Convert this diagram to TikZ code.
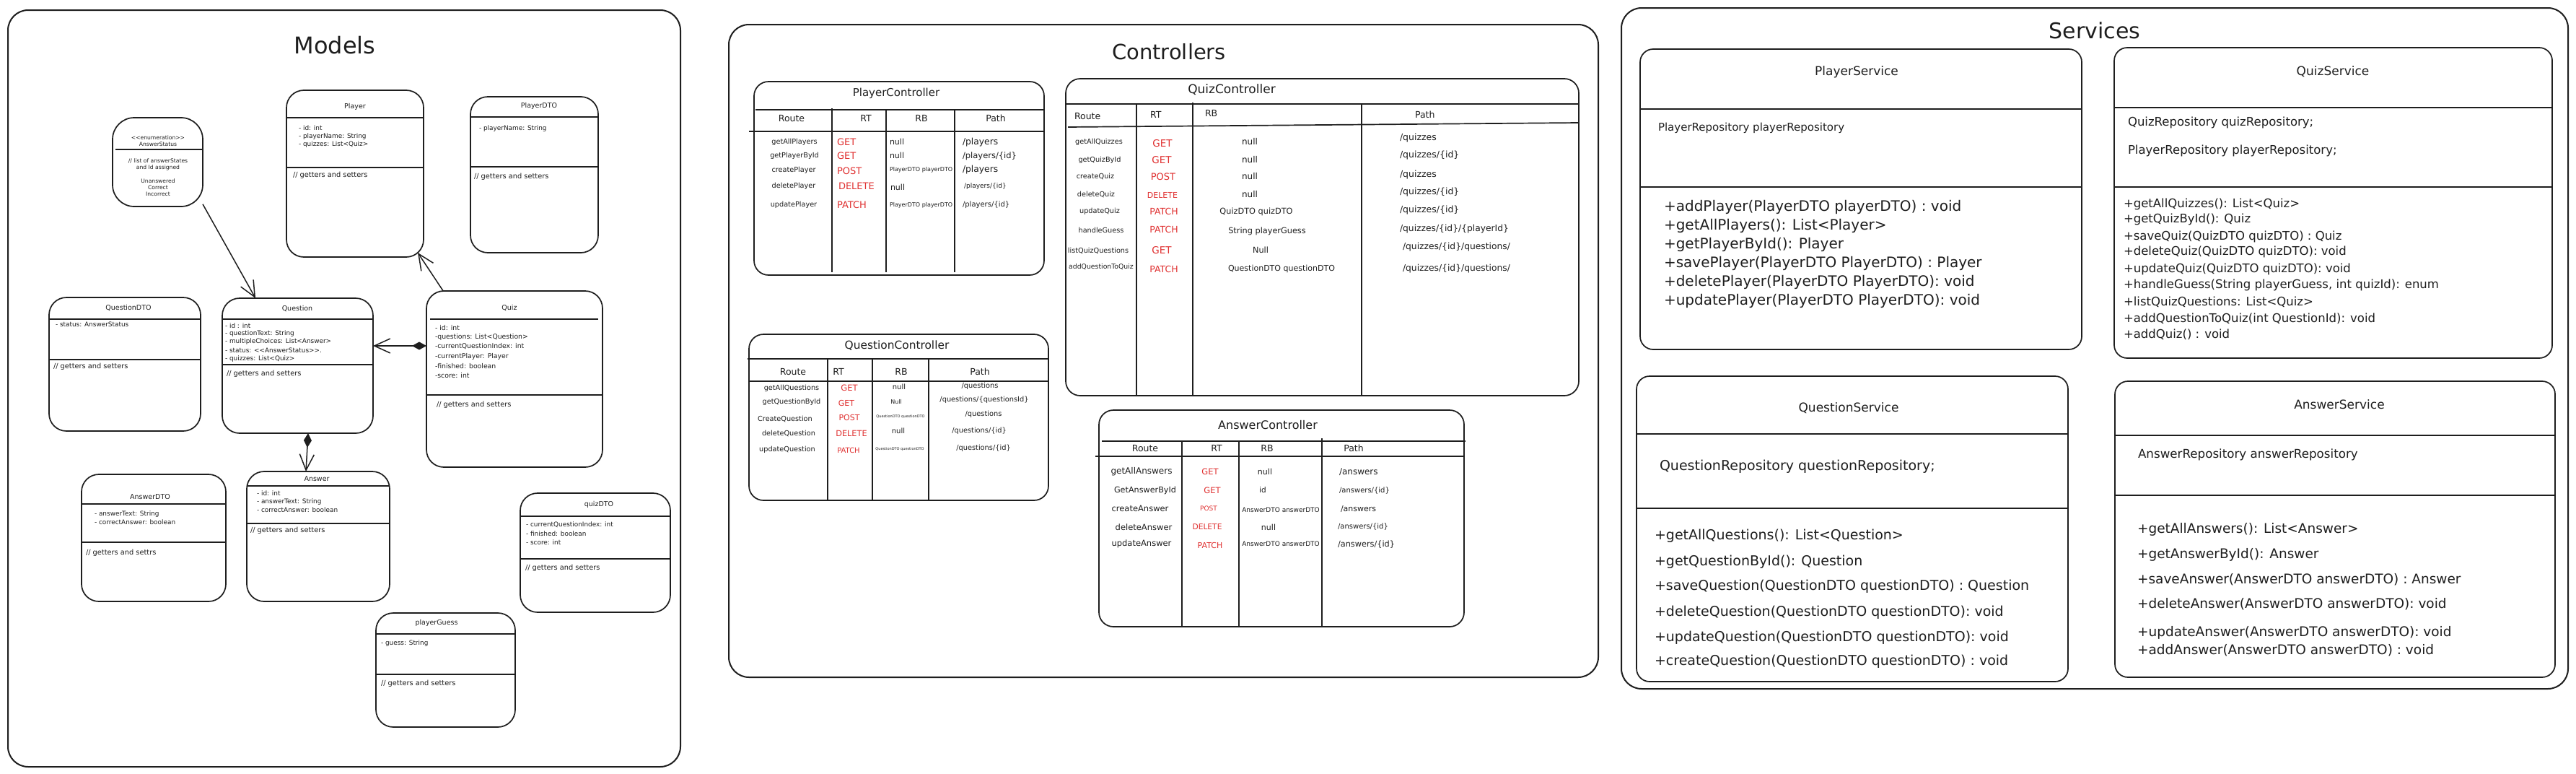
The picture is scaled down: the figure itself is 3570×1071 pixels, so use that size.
\documentclass[tikz,border=0pt]{standalone}
\usepackage{fontspec}
\setmainfont{DejaVu Sans}
\usetikzlibrary{arrows.meta,calc}
\definecolor{ink}{HTML}{1E1E1E}
\definecolor{redc}{HTML}{E03131}
\newcommand{\fsz}[1]{\fontsize{#1}{#1}\selectfont}
\newcommand{\dlt}{<\kern0pt<}
\newcommand{\dgt}{>\kern0pt>}
\newcount\tcnt
\newcommand{\tw}[4]{\global\advance\tcnt by 1\relax\node[lbl,anchor=west,font=\fsz{#3}] (t\the\tcnt) at (#1,#2) {#4};}
\newcommand{\tc}[4]{\global\advance\tcnt by 1\relax\node[lbl,font=\fsz{#3}] (t\the\tcnt) at (#1,#2) {#4};}
\newcommand{\rw}[4]{\global\advance\tcnt by 1\relax\node[lbl,text=redc,anchor=west,font=\fsz{#3}] (t\the\tcnt) at (#1,#2) {#4};}
\newcommand{\rc}[4]{\global\advance\tcnt by 1\relax\node[lbl,text=redc,font=\fsz{#3}] (t\the\tcnt) at (#1,#2) {#4};}
\newcommand{\mkbox}[6][box]{\node[#1, minimum width={(#5)-(#3)}, minimum height={(#6)-(#4)}] (#2) at ({((#3)+(#5))/2},{((#4)+(#6))/2}) {};}
\newcommand{\hln}[3]{\draw[sep] (#1,#3) -- (#2,#3);}
\newcommand{\vln}[3]{\draw[sep] (#1,#2) -- (#1,#3);}
\tikzset{
  box/.style={draw=ink, line width=1.7pt, rounded corners=24pt, inner sep=0pt, outer sep=0pt},
  abox/.style={box, rounded corners=30pt},
  cbox/.style={box, rounded corners=20pt},
  sbox/.style={box, rounded corners=18pt},
  frame/.style={draw=ink, line width=2pt, rounded corners=28pt, inner sep=0pt, outer sep=0pt},
  sep/.style={draw=ink, line width=1.7pt},
  lbl/.style={inner sep=0pt, outer sep=0pt, text=ink},
  arr/.style={draw=ink, line width=1.5pt, -{Straight Barb[length=22pt,width=20pt]}},
  comp/.style={draw=ink, line width=1.5pt, {Diamond[length=20pt,width=11pt]}-{Straight Barb[length=22pt,width=20pt]}}
}
\begin{document}
\begin{tikzpicture}[x=1pt,y=-1pt]
\useasboundingbox (0,0) rectangle (3570,1071);
\fill[white] (0,0) rectangle (3570,1071);

% ===== frames =====
\mkbox[frame]{modelsF}{11}{14}{943}{1062}
\mkbox[frame]{ctrlF}{1010}{34}{2215}{938}
\mkbox[frame]{servF}{2247}{11}{3559}{954}
\tc{464}{63}{32}{Models}
\tc{1620}{72}{29}{Controllers}
\tc{2903}{42}{30}{Services}

% ===== Models =====
\mkbox[abox]{astatus}{156}{163}{281}{286}
\hln{160}{280}{207}
\tc{219}{191}{7.6}{\dlt enumeration\dgt}
\tc{219}{200}{7.6}{AnswerStatus}
\tc{219}{223}{7.6}{// list of answerStates}
\tc{219}{232}{7.6}{and Id assigned}
\tc{219}{251}{7.6}{Unanswered}
\tc{219}{260}{7.6}{Correct}
\tc{219}{269}{7.6}{Incorrect}

\mkbox{player}{397}{125}{587}{356}
\hln{397}{587}{163}
\hln{397}{587}{232}
\tc{492}{148}{9.5}{Player}
\tw{414}{177}{8.9}{- id: int}
\tw{414}{189}{8.9}{- playerName: String}
\tw{414}{200}{8.9}{- quizzes: List<Quiz>}
\tw{406}{243}{9.8}{// getters and setters}

\mkbox{playerdto}{652}{134}{829}{350}
\hln{652}{829}{162}
\hln{652}{829}{231}
\tc{747}{147}{9.5}{PlayerDTO}
\tw{664}{178}{8.9}{- playerName: String}
\tw{657}{245}{9.8}{// getters and setters}

\mkbox{questiondto}{68}{412}{278}{597}
\hln{68}{278}{442}
\hln{68}{278}{498}
\tc{178}{426}{9.5}{QuestionDTO}
\tw{77}{449}{8.9}{- status: AnswerStatus}
\tw{74}{508}{9.8}{// getters and setters}

\mkbox{question}{308}{413}{517}{600}
\hln{308}{517}{442}
\hln{308}{517}{505}
\tc{412}{427}{9.5}{Question}
\tw{312}{451}{8.9}{- id : int}
\tw{312}{462}{8.9}{- questionText: String}
\tw{312}{473}{8.9}{- multipleChoices: List<Answer>}
\tw{312}{485}{8.9}{- status: \dlt AnswerStatus\dgt.}
\tw{312}{497}{8.9}{- quizzes: List<Quiz>}
\tw{314}{518}{9.8}{// getters and setters}

\mkbox{quiz}{591}{403}{835}{647}
\hln{596}{829}{442}
\hln{591}{835}{547}
\tc{706}{426}{9.5}{Quiz}
\tw{603}{454}{9.3}{- id: int}
\tw{603}{467}{9.3}{-questions: List<Question>}
\tw{603}{480}{9.3}{-currentQuestionIndex: int}
\tw{603}{494}{9.3}{-currentPlayer: Player}
\tw{603}{507}{9.3}{-finished: boolean}
\tw{603}{520}{9.3}{-score: int}
\tw{605}{561}{9.8}{// getters and setters}

\mkbox{answerdto}{113}{657}{313}{833}
\hln{113}{313}{698}
\hln{113}{313}{751}
\tc{208}{688}{9.5}{AnswerDTO}
\tw{131}{712}{8.9}{- answerText: String}
\tw{131}{723}{8.9}{- correctAnswer: boolean}
\tw{119}{766}{9.8}{// getters and settrs}

\mkbox{answer}{342}{653}{540}{833}
\hln{342}{540}{673}
\hln{342}{540}{725}
\tc{439}{663}{9.5}{Answer}
\tw{356}{683}{8.9}{- id: int}
\tw{356}{695}{8.9}{- answerText: String}
\tw{356}{706}{8.9}{- correctAnswer: boolean}
\tw{347}{735}{9.8}{// getters and setters}

\mkbox{quizdto}{721}{683}{929}{848}
\hln{721}{929}{715}
\hln{721}{929}{774}
\tc{830}{699}{9.5}{quizDTO}
\tw{729}{727}{8.9}{- currentQuestionIndex: int}
\tw{729}{739}{8.9}{- finished: boolean}
\tw{729}{751}{8.9}{- score: int}
\tw{728}{787}{9.8}{// getters and setters}

\mkbox{playerguess}{521}{849}{714}{1007}
\hln{521}{714}{878}
\hln{521}{714}{934}
\tc{605}{863}{9.5}{playerGuess}
\tw{528}{891}{8.9}{- guess: String}
\tw{528}{947}{9.8}{// getters and setters}

% connectors
\coordinate (ptip) at ($(player.south east)+(-8,-6)$);
\draw[arr] (astatus.-43.5) -- (question.122.5);
\draw[arr] (quiz.129.6) -- (ptip);
\draw[comp] ([yshift=46pt]quiz.west) -- ([yshift=27.5pt]question.east);
\draw[comp] ([xshift=14.5pt]question.south) -- ([xshift=-17pt]answer.north);

% ===== Controllers =====
% PlayerController
\mkbox[cbox]{pctrl}{1045}{113}{1447}{381}
\hln{1047}{1447}{152}
\hln{1038}{1447}{182}
\vln{1153}{150}{377}
\vln{1228}{152}{377}
\vln{1323}{152}{377}
\tc{1242}{129}{15}{PlayerController}
\tc{1097}{164}{12.5}{Route}
\tc{1200}{164}{12.5}{RT}
\tc{1277}{164}{12.5}{RB}
\tc{1380}{164}{12.5}{Path}
\tc{1101}{197}{9.7}{getAllPlayers}
\tc{1101}{216}{9.7}{getPlayerById}
\tc{1100}{236}{9.7}{createPlayer}
\tc{1100}{258}{9.7}{deletePlayer}
\tc{1100}{284}{9.7}{updatePlayer}
\rw{1160}{197}{13}{GET}
\rw{1160}{216}{13}{GET}
\rw{1160}{237}{13}{POST}
\rw{1162}{258}{13}{DELETE}
\rw{1160}{284}{13}{PATCH}
\tw{1233}{196}{11}{null}
\tw{1233}{215}{11}{null}
\tw{1233}{235}{8}{PlayerDTO playerDTO}
\tw{1234}{259}{11}{null}
\tw{1233}{284}{8}{PlayerDTO playerDTO}
\tw{1334}{197}{12.3}{/players}
\tw{1334}{216}{11.5}{/players/\{id\}}
\tw{1334}{235}{12.3}{/players}
\tw{1336}{258}{9}{/players/\{id\}}
\tw{1334}{284}{10}{/players/\{id\}}

% QuizController
\mkbox[cbox]{qzctrl}{1477}{109}{2188}{548}
\hln{1477}{2188}{144}
\draw[sep] (1480,176) -- (2188,170);
\vln{1575}{144}{548}
\vln{1653}{142}{548}
\vln{1887}{144}{548}
\tc{1707}{124}{17}{QuizController}
\tw{1489}{161}{12.5}{Route}
\tw{1594}{159}{12.5}{RT}
\tw{1670}{157}{12.5}{RB}
\tw{1961}{159}{12.5}{Path}
\tc{1523}{197}{9.7}{getAllQuizzes}
\tc{1524}{222}{9.7}{getQuizById}
\tc{1518}{244}{9.7}{createQuiz}
\tc{1519}{269}{9.7}{deleteQuiz}
\tc{1524}{293}{9.7}{updateQuiz}
\tc{1526}{319}{9.7}{handleGuess}
\tc{1522}{347}{9.7}{listQuizQuestions}
\tc{1526}{370}{9.3}{addQuestionToQuiz}
\rc{1611}{199}{13.5}{GET}
\rc{1610}{222}{13.5}{GET}
\rc{1612}{245}{13}{POST}
\rc{1611}{270}{11}{DELETE}
\rc{1613}{293}{12.5}{PATCH}
\rc{1613}{318}{12.5}{PATCH}
\rc{1610}{347}{13.5}{GET}
\rc{1613}{373}{12.5}{PATCH}
\tc{1732}{196}{12}{null}
\tc{1732}{221}{12}{null}
\tc{1732}{244}{12}{null}
\tc{1732}{269}{12}{null}
\tc{1741}{293}{11.3}{QuizDTO quizDTO}
\tc{1756}{320}{11.3}{String playerGuess}
\tc{1747}{346}{11.3}{Null}
\tc{1776}{372}{11}{QuestionDTO questionDTO}
\tw{1940}{191}{12.5}{/quizzes}
\tw{1940}{215}{12.5}{/quizzes/\{id\}}
\tw{1940}{242}{12.5}{/quizzes}
\tw{1940}{266}{12.5}{/quizzes/\{id\}}
\tw{1940}{291}{12.5}{/quizzes/\{id\}}
\tw{1940}{317}{12.3}{/quizzes/\{id\}/\{playerId\}}
\tw{1944}{342}{12.3}{/quizzes/\{id\}/questions/}
\tw{1944}{372}{12.3}{/quizzes/\{id\}/questions/}

% QuestionController
\mkbox[cbox]{qnctrl}{1038}{463}{1453}{693}
\hln{1036}{1453}{497}
\hln{1038}{1453}{528}
\vln{1147}{497}{693}
\vln{1209}{497}{693}
\draw[sep, line width=2.4pt] (1287,497) -- (1287,693);
\tc{1243}{479}{15.4}{QuestionController}
\tc{1099}{515}{12.5}{Route}
\tc{1162}{515}{12.5}{RT}
\tc{1249}{515}{12.5}{RB}
\tc{1358}{515}{12.5}{Path}
\tc{1097}{538}{9.7}{getAllQuestions}
\tc{1097}{557}{9.7}{getQuestionById}
\tc{1088}{580}{9.7}{CreateQuestion}
\tc{1093}{600}{9.7}{deleteQuestion}
\tc{1091}{623}{9.7}{updateQuestion}
\rc{1177}{537}{11.5}{GET}
\rc{1173}{558}{11}{GET}
\rc{1177}{578}{11}{POST}
\rc{1180}{600}{11.3}{DELETE}
\rc{1176}{624}{10}{PATCH}
\tc{1246}{536}{10}{null}
\tc{1242}{557}{8}{Null}
\tc{1248}{577}{5}{QuestionDTO questionDTO}
\tc{1245}{597}{10}{null}
\tc{1247}{622}{5}{QuestionDTO questionDTO}
\tc{1358}{535}{9.8}{/questions}
\tc{1364}{554}{9.8}{/questions/\{questionsId\}}
\tc{1363}{574}{9.8}{/questions}
\tc{1357}{597}{9.8}{/questions/\{id\}}
\tc{1363}{621}{9.8}{/questions/\{id\}}

% AnswerController
\mkbox[cbox]{actrl}{1523}{568}{2029}{868}
\hln{1527}{2031}{611}
\hln{1518}{2029}{632}
\vln{1638}{611}{868}
\vln{1717}{611}{868}
\vln{1832}{607}{868}
\tc{1757}{589}{16}{AnswerController}
\tc{1587}{621}{12.5}{Route}
\tc{1686}{621}{12.5}{RT}
\tc{1756}{621}{12.5}{RB}
\tc{1876}{621}{12.5}{Path}
\tc{1582}{653}{12}{getAllAnswers}
\tc{1587}{679}{11.2}{GetAnswerById}
\tc{1580}{704}{11.5}{createAnswer}
\tc{1585}{730}{11.5}{deleteAnswer}
\tc{1582}{753}{11.5}{updateAnswer}
\rc{1677}{653}{11.5}{GET}
\rc{1680}{679}{11.5}{GET}
\rc{1675}{704}{9}{POST}
\rc{1673}{730}{10.7}{DELETE}
\rc{1677}{755}{11}{PATCH}
\tc{1753}{653}{11}{null}
\tc{1750}{679}{10.5}{id}
\tc{1775}{706}{9}{AnswerDTO answerDTO}
\tc{1758}{730}{11}{null}
\tc{1775}{753}{9}{AnswerDTO answerDTO}
\tw{1856}{654}{12}{/answers}
\tw{1856}{680}{10}{/answers/\{id\}}
\tw{1858}{705}{11}{/answers}
\tw{1854}{730}{10}{/answers/\{id\}}
\tw{1854}{754}{11.3}{/answers/\{id\}}

% ===== Services =====
\mkbox[sbox]{pserv}{2273}{68}{2885}{484}
\hln{2273}{2885}{151}
\hln{2273}{2885}{259}
\tc{2573}{100}{17}{PlayerService}
\tw{2298}{177}{15}{PlayerRepository playerRepository}
\tw{2306}{287}{20}{+addPlayer(PlayerDTO playerDTO) : void}
\tw{2306}{313}{20}{+getAllPlayers(): List<Player>}
\tw{2306}{339}{20}{+getPlayerById(): Player}
\tw{2306}{365}{20}{+savePlayer(PlayerDTO PlayerDTO) : Player}
\tw{2306}{391}{20}{+deletePlayer(PlayerDTO PlayerDTO): void}
\tw{2306}{417}{20}{+updatePlayer(PlayerDTO PlayerDTO): void}

\mkbox[sbox]{qzserv}{2930}{66}{3537}{496}
\hln{2930}{3537}{149}
\hln{2930}{3537}{259}
\tc{3233}{99}{17}{QuizService}
\tw{2949}{170}{16.5}{QuizRepository quizRepository;}
\tw{2949}{209}{16.5}{PlayerRepository playerRepository;}
\tw{2943}{283}{16.5}{+getAllQuizzes(): List<Quiz>}
\tw{2943}{304}{16.5}{+getQuizById(): Quiz}
\tw{2943}{328}{16.5}{+saveQuiz(QuizDTO quizDTO) : Quiz}
\tw{2943}{349}{16.5}{+deleteQuiz(QuizDTO quizDTO): void}
\tw{2943}{373}{16.5}{+updateQuiz(QuizDTO quizDTO): void}
\tw{2943}{395}{16.5}{+handleGuess(String playerGuess, int quizId): enum}
\tw{2943}{418}{16.5}{+listQuizQuestions: List<Quiz>}
\tw{2943}{441}{16.5}{+addQuestionToQuiz(int QuestionId): void}
\tw{2943}{463}{16.5}{+addQuiz() : void}

\mkbox[sbox]{qnserv}{2268}{521}{2866}{944}
\hln{2268}{2866}{601}
\hln{2268}{2866}{704}
\tc{2562}{565}{17}{QuestionService}
\tw{2300}{646}{19}{QuestionRepository questionRepository;}
\tw{2293}{742}{19}{+getAllQuestions(): List<Question>}
\tw{2293}{778}{19}{+getQuestionById(): Question}
\tw{2293}{812}{19}{+saveQuestion(QuestionDTO questionDTO) : Question}
\tw{2293}{848}{19}{+deleteQuestion(QuestionDTO questionDTO): void}
\tw{2293}{883}{19}{+updateQuestion(QuestionDTO questionDTO): void}
\tw{2293}{916}{19}{+createQuestion(QuestionDTO questionDTO) : void}

\mkbox[sbox]{aserv}{2931}{528}{3541}{938}
\hln{2931}{3541}{603}
\hln{2931}{3541}{686}
\tc{3242}{560}{17}{AnswerService}
\tw{2963}{630}{16.7}{AnswerRepository answerRepository}
\tw{2962}{733}{18.5}{+getAllAnswers(): List<Answer>}
\tw{2962}{768}{18.5}{+getAnswerById(): Answer}
\tw{2962}{803}{18.5}{+saveAnswer(AnswerDTO answerDTO) : Answer}
\tw{2962}{837}{18.5}{+deleteAnswer(AnswerDTO answerDTO): void}
\tw{2962}{876}{18.5}{+updateAnswer(AnswerDTO answerDTO): void}
\tw{2962}{901}{18.5}{+addAnswer(AnswerDTO answerDTO) : void}
\end{tikzpicture}
\end{document}
